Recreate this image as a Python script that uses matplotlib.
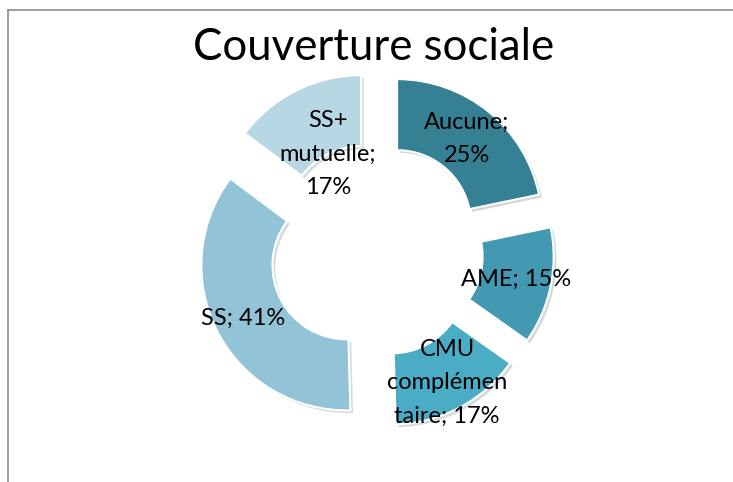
# Couverture sociale - exploded doughnut

import matplotlib
matplotlib.use('Agg')
from matplotlib import pyplot as plt
from matplotlib import patheffects as pe
from matplotlib.lines import Line2D
import numpy as np

plt.rcParams['font.family'] = ['Lato', 'DejaVu Sans']

## data ---------
categories = ['Aucune', 'AME', 'CMU\ncomplémen\ntaire', 'SS', 'SS+\nmutuelle']
values = [25, 15, 17, 41, 17]
labels = ['Aucune;\n25%', 'AME; 15%', 'CMU\ncomplémen\ntaire; 17%', 'SS; 41%', 'SS+\nmutuelle;\n17%']
colors = ['#368094', '#4399B1', '#4BACC6', '#93C3D6', '#B8D7E4']

# label distance from the pie centre (in radii), per slice
label_r = [0.99, 0.99, 1.04, 1.03, 0.74]

W, H = 733, 482
R_PX = 145.0          # outer radius in pixels
CX, CY = 376, 250     # pie centre in pixels (from top-left)

fig = plt.figure(figsize=(W / 100, H / 100), dpi=100)
fig.patch.set_facecolor('white')
ax = fig.add_axes([0, 0, 1, 1])

explode = [0.23] * len(values)
wedges, _ = ax.pie(values, colors=colors, startangle=90, counterclock=False,
                   explode=explode, radius=1.0,
                   wedgeprops=dict(width=0.49, edgecolor='white', linewidth=1.5))
for w in wedges:
    w.set_path_effects([pe.SimplePatchShadow(offset=(2, -2), alpha=0.18),
                        pe.Normal()])

# labels along each slice's bisector
for w, lab, r in zip(wedges, labels, label_r):
    ang = np.deg2rad((w.theta1 + w.theta2) / 2)
    ax.text(r * np.cos(ang), r * np.sin(ang), lab, ha='center', va='center',
            fontsize=17, color='black', linespacing=1.72)

ax.set_xlim(-CX / R_PX, (W - CX) / R_PX)
ax.set_ylim(-(H - CY) / R_PX, CY / R_PX)
ax.set_aspect('auto')
ax.axis('off')

# title
fig.text(374 / W, 1 - 48 / H, 'Couverture sociale', ha='center', va='center',
         fontsize=31.5, color='black')

# chart area border (cut at right and bottom)
fig.add_artist(Line2D([8 / W, 1.0], [1 - 10 / H, 1 - 10 / H], color='#8c8c8c', lw=1.2))
fig.add_artist(Line2D([8 / W, 8 / W], [0.0, 1 - 10 / H], color='#8c8c8c', lw=1.2))

plt.savefig('out.png', dpi=100)
